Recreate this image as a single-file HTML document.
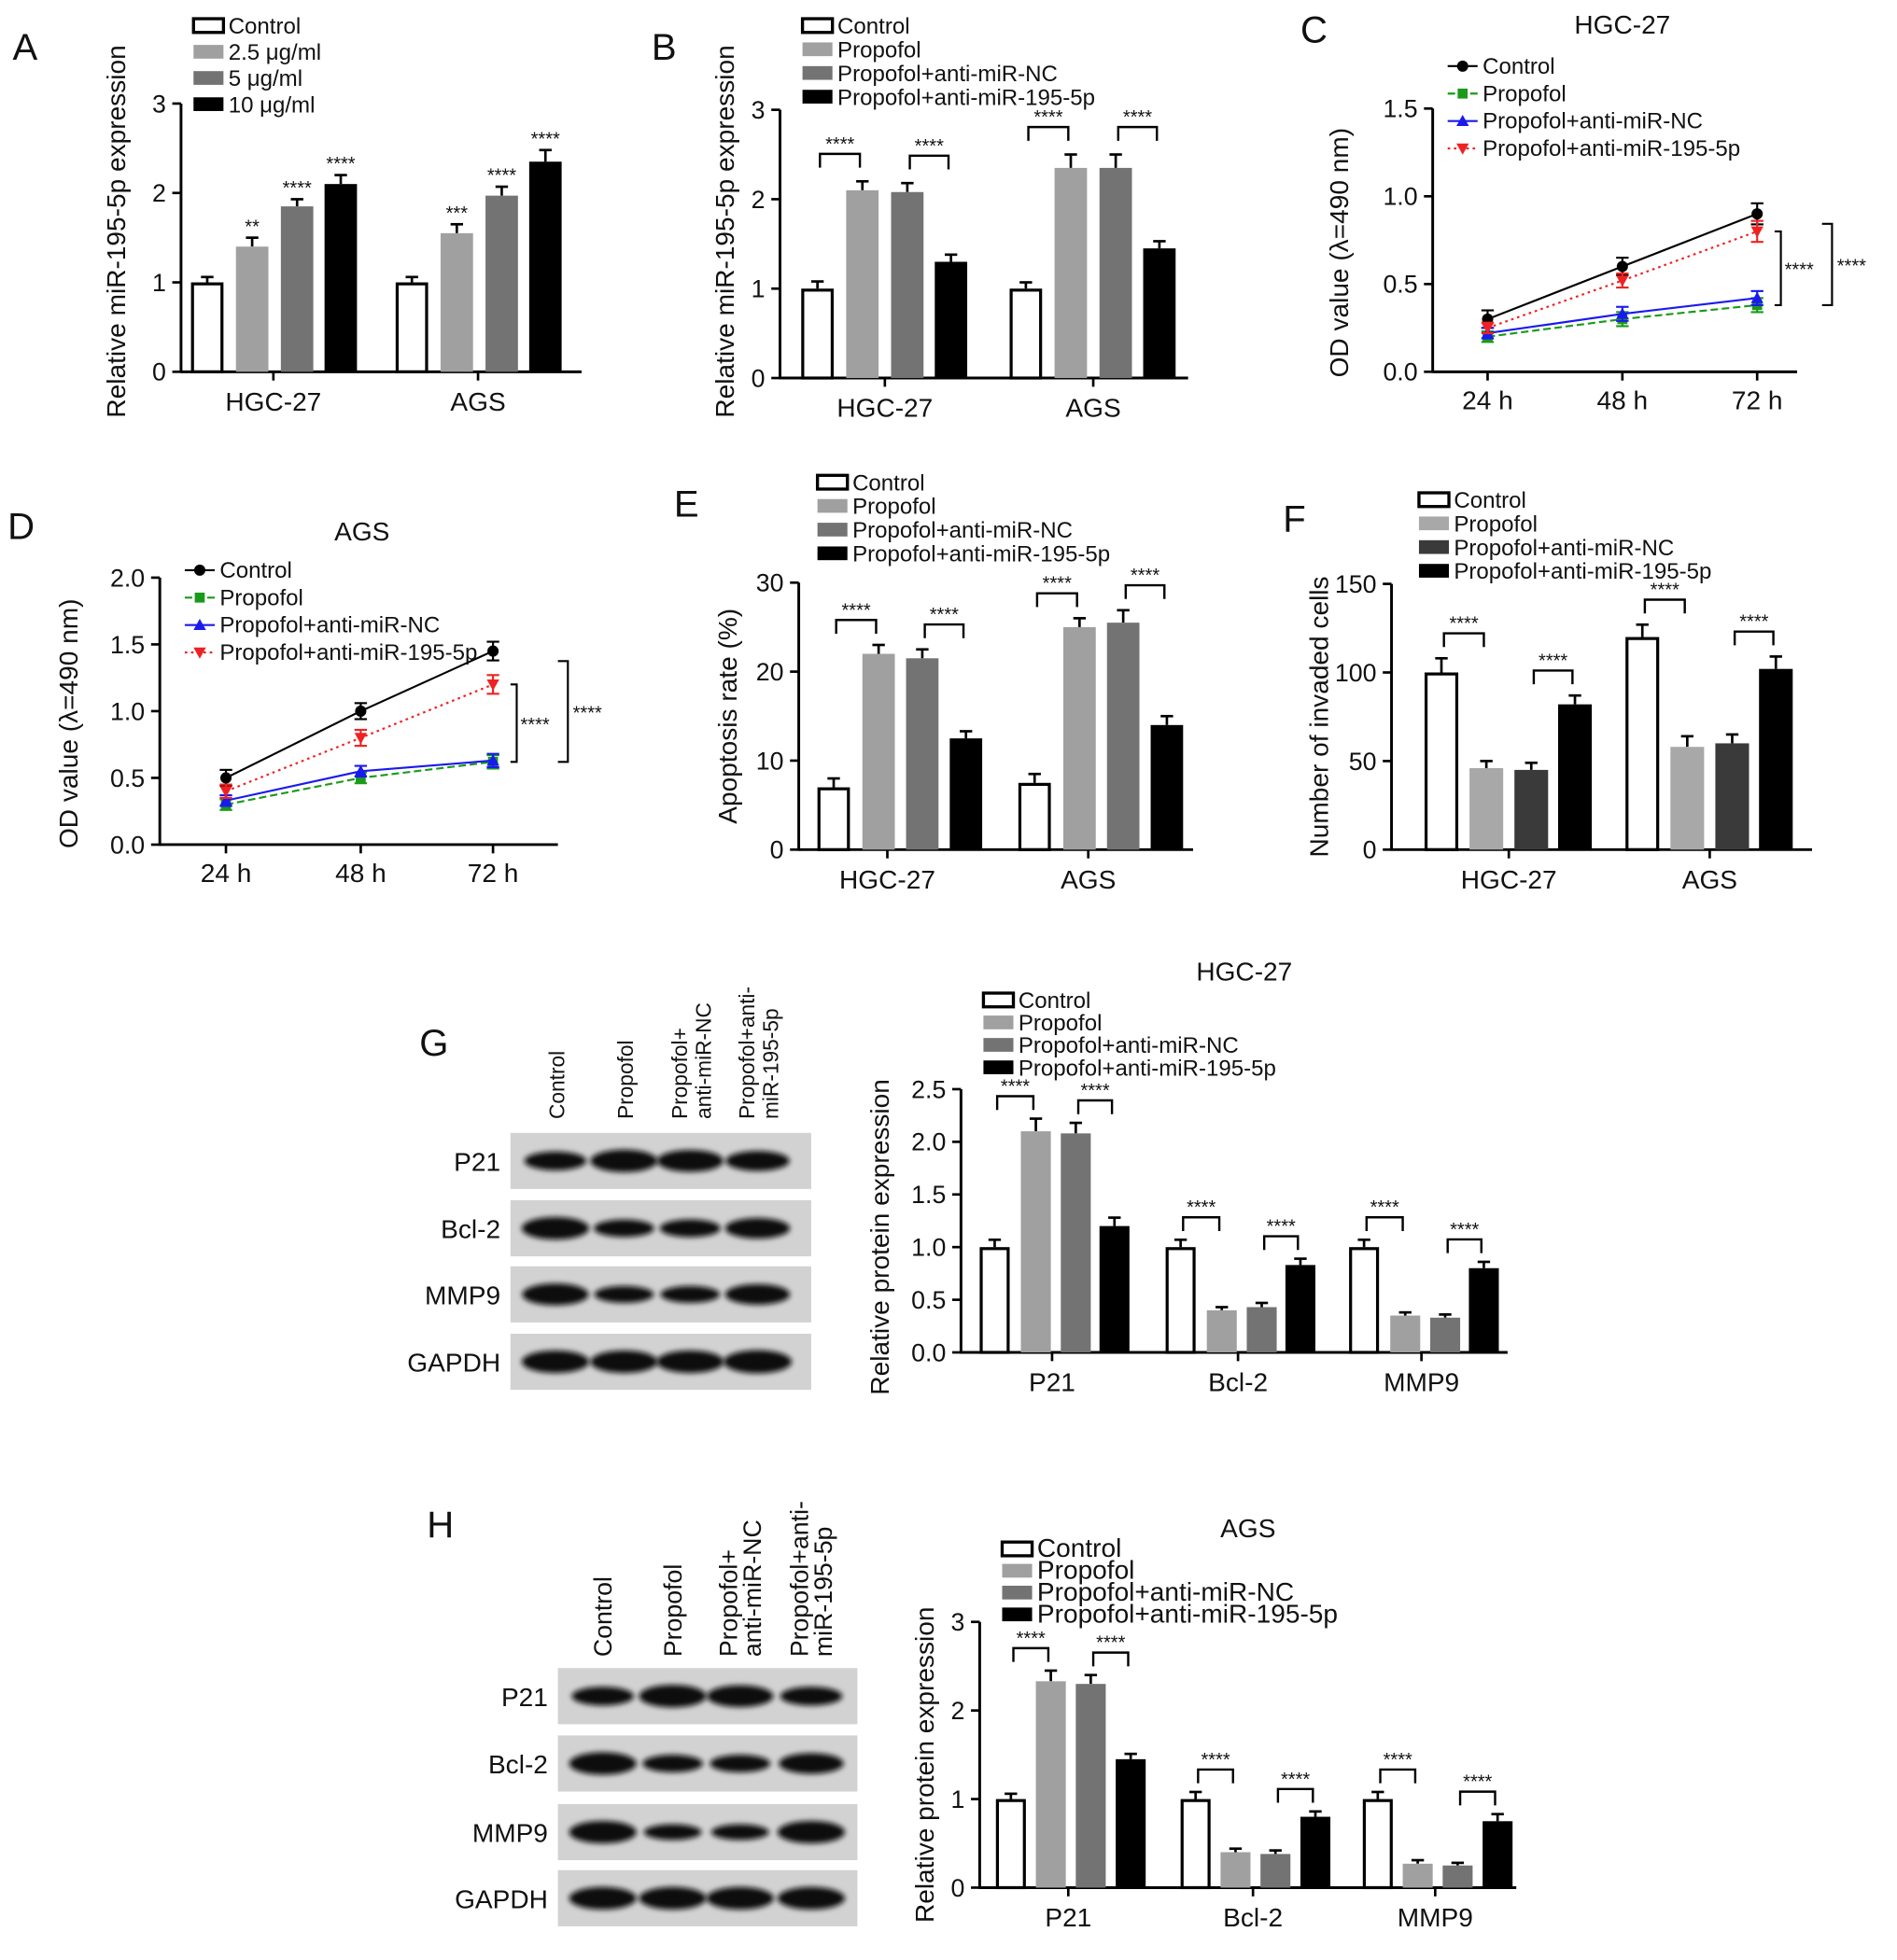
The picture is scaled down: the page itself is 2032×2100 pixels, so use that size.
<!DOCTYPE html>
<html><head><meta charset="utf-8"><style>
html,body{margin:0;padding:0;background:#fff;}
svg{display:block;font-family:"Liberation Sans",Arial,sans-serif;}
</style></head><body>
<svg id="fig" width="2032" height="2100" viewBox="0 0 1520 1571" xmlns="http://www.w3.org/2000/svg">
<defs><filter id="blur" x="-20%" y="-50%" width="140%" height="200%"><feGaussianBlur stdDeviation="2.2"/></filter></defs>
</svg>
<script>
// ---------- DATA ----------
const groupsAB = ['HGC-27','AGS'];
const aSeries = ['Control','2.5 μg/ml','5 μg/ml','10 μg/ml'];
const aValues = [[1.0,1.4,1.85,2.1],[1.0,1.55,1.97,2.35]];
const aErrs = [[0.06,0.1,0.08,0.1],[0.06,0.1,0.1,0.13]];
const aStars = [['','**','****','****'],['','***','****','****']];
const treatSeries = ['Control','Propofol','Propofol+anti-miR-NC','Propofol+anti-miR-195-5p'];
const bValues = [[1.0,2.1,2.08,1.3],[1.0,2.35,2.35,1.45]];
const bErrs = [[0.08,0.1,0.1,0.08],[0.07,0.15,0.15,0.08]];
const timeCats = ['24 h','48 h','72 h'];
const cValues = [[0.3,0.6,0.9],[0.2,0.3,0.38],[0.22,0.33,0.42],[0.25,0.52,0.8]];
const cErrs = [[0.05,0.05,0.06],[0.03,0.04,0.04],[0.03,0.04,0.04],[0.03,0.04,0.06]];
const dValues = [[0.5,1.0,1.45],[0.3,0.5,0.62],[0.33,0.55,0.63],[0.4,0.8,1.2]];
const dErrs = [[0.06,0.06,0.07],[0.04,0.04,0.05],[0.04,0.04,0.05],[0.05,0.06,0.07]];
const eValues = [[7,22,21.5,12.5],[7.5,25,25.5,14]];
const eErrs = [[1,1,1,0.8],[1,1,1.4,1]];
const fValues = [[100,46,45,82],[120,58,60,102]];
const fErrs = [[8,4,4,5],[7,6,5,7]];
const proteins = ['P21','Bcl-2','MMP9'];
const gValues = [[1.0,2.1,2.08,1.2],[1.0,0.4,0.43,0.83],[1.0,0.35,0.33,0.8]];
const gErrs = [[0.07,0.12,0.1,0.08],[0.07,0.03,0.04,0.06],[0.07,0.03,0.03,0.06]];
const hValues = [[1.0,2.33,2.3,1.45],[1.0,0.4,0.38,0.8],[1.0,0.27,0.25,0.75]];
const hErrs = [[0.06,0.12,0.1,0.06],[0.08,0.04,0.04,0.06],[0.08,0.04,0.03,0.08]];
const blotRows = ['P21','Bcl-2','MMP9','GAPDH'];
const blotG = [[0.7,1,0.95,0.8],[1,0.6,0.62,0.85],[0.95,0.55,0.55,0.85],[1,1,1,1.05]];
const blotH = [[0.7,1,0.95,0.7],[1,0.6,0.6,0.85],[1,0.45,0.45,1],[1,1,1,1]];
const laneLabels = [['Control'],['Propofol'],['Propofol+','anti-miR-NC'],['Propofol+anti-','miR-195-5p']];
// ---------- HELPERS ----------
const NS='http://www.w3.org/2000/svg';
const svg=document.getElementById('fig');
function mk(tag,attrs,parent,name,text){
  const e=document.createElementNS(NS,tag);
  for(const k in attrs) e.setAttribute(k,attrs[k]);
  
  
  if(text!==undefined) e.textContent=text;
  (parent||svg).appendChild(e); return e;
}
function txt(x,y,s,size,parent,name,anchor,extra){
  const a={x:x,y:y,'font-size':size,'text-anchor':anchor||'start',fill:'#111'};
  if(extra) for(const k in extra) a[k]=extra[k];
  return mk('text',a,parent,name,s);
}
function legend(x,y,labels,colors,size,step,g,isLine){
  labels.forEach((l,i)=>{
    const yy=y+i*step;
    if(isLine){
      const c=colors[i];
      mk('line',{x1:x,y1:yy,x2:x+24,y2:yy,stroke:c.c,'stroke-width':1.6,'stroke-dasharray':c.d},g,'legend-line');
      marker(x+12,yy,i,c.c,g);
    } else {
      mk('rect',{x:x,y:yy-6,width:24,height:11,fill:colors[i],stroke:i==0?'#000':'none','stroke-width':2.5},g,'legend-swatch');
    }
    txt(x+28,yy+6,l,size,g,'legend-label');
  });
}
function marker(x,y,i,c,g){
  if(i==0) mk('circle',{cx:x,cy:y,r:4.5,fill:c},g,'marker');
  else if(i==1) mk('rect',{x:x-4,y:y-4,width:8,height:8,fill:c},g,'marker');
  else if(i==2) mk('polygon',{points:`${x},${y-5} ${x+5},${y+4} ${x-5},${y+4}`,fill:c},g,'marker');
  else mk('polygon',{points:`${x-5},${y-4} ${x+5},${y-4} ${x},${y+5}`,fill:c},g,'marker');
}
function yAxis(g,x0,y0,yTop,vmax,ticks,fmt,size){
  mk('line',{x1:x0,y1:y0+1,x2:x0,y2:yTop,stroke:'#000','stroke-width':2.2},g,'y-axis');
  ticks.forEach(t=>{const y=y0-t/vmax*(y0-yTop);
    mk('line',{x1:x0-7,y1:y,x2:x0,y2:y,stroke:'#000','stroke-width':2},g,'y-tick');
    txt(x0-12,y+7,fmt(t),size,g,'y-tick-label','end');});
}
function barChart(c){
  const g=mk('g',{},svg,c.name);
  const ys=v=>c.y0-v/c.vmax*(c.y0-c.yTop);
  yAxis(g,c.x0,c.y0,c.yTop,c.vmax,c.ticks,c.fmt,20);
  mk('line',{x1:c.x0,y1:c.y0,x2:c.xEnd,y2:c.y0,stroke:'#000','stroke-width':2.2},g,'x-axis');
  c.groups.forEach((gn,gi)=>{
    const cx=c.centers[gi];
    mk('line',{x1:cx,y1:c.y0,x2:cx,y2:c.y0+7,stroke:'#000','stroke-width':2},g,'x-tick');
    txt(cx,c.y0+31,gn,21,g,'x-tick-label','middle');
    const vals=c.values[gi], errs=c.errs[gi], bx=[];
    vals.forEach((v,si)=>{
      const x=cx+c.offsets[si]-c.bw/2; bx.push(x+c.bw/2);
      const top=ys(v), et=ys(v+errs[si]);
      mk('line',{x1:x+c.bw/2,y1:top,x2:x+c.bw/2,y2:et,stroke:'#000','stroke-width':2},g,'error-bar');
      mk('line',{x1:x+c.bw/2-5,y1:et,x2:x+c.bw/2+5,y2:et,stroke:'#000','stroke-width':2},g,'error-cap');
      if(si==0) mk('rect',{x:x+1.2,y:top+1.2,width:c.bw-2.4,height:c.y0-top-1.2,fill:'#fff',stroke:'#000','stroke-width':2.4},g,'bar-'+gn.toLowerCase()+'-'+si);
      else mk('rect',{x:x,y:top,width:c.bw,height:c.y0-top,fill:c.colors[si]},g,'bar-'+gn.toLowerCase()+'-'+si);
      if(c.stars && c.stars[gi][si]) txt(x+c.bw/2,et-4,c.stars[gi][si],15,g,'significance','middle');
    });
    if(c.brackets){
      [[0,1],[2,3]].forEach(p=>{
        const m=Math.max(vals[p[0]]+errs[p[0]],vals[p[1]]+errs[p[1]]);
        const yb=ys(m)-c.bgap;
        const x1=bx[p[0]]+2,x2=bx[p[1]]-2;
        mk('polyline',{points:`${x1},${yb+11} ${x1},${yb} ${x2},${yb} ${x2},${yb+11}`,fill:'none',stroke:'#000','stroke-width':1.8},g,'significance-bracket');
        txt((x1+x2)/2,yb-3,'****',15,g,'significance','middle');
      });
    }
  });
  txt(0,0,c.ytitle,21,g,'y-axis-title','middle',{transform:`translate(${c.tx},${(c.y0+c.yTop)/2+c.tdy}) rotate(-90)`});
  return g;
}
const lineStyles=[{c:'#000',d:'none'},{c:'#1a9a1a',d:'6,3'},{c:'#1a1aee',d:'none'},{c:'#ee2222',d:'2,3'}];
function lineChart(c){
  const g=mk('g',{},svg,c.name);
  const ys=v=>c.y0-v/c.vmax*(c.y0-c.yTop);
  yAxis(g,c.x0,c.y0,c.yTop,c.vmax,c.ticks,t=>t.toFixed(1),20);
  mk('line',{x1:c.x0,y1:c.y0,x2:c.xEnd,y2:c.y0,stroke:'#000','stroke-width':2.2},g,'x-axis');
  c.cats.forEach((cat,i)=>{const x=c.xs[i];
    mk('line',{x1:x,y1:c.y0,x2:x,y2:c.y0+7,stroke:'#000','stroke-width':2},g,'x-tick');
    txt(x,c.y0+30,cat,21,g,'x-tick-label','middle');});
  c.values.forEach((ser,si)=>{
    const st=lineStyles[si];
    const pts=ser.map((v,i)=>`${c.xs[i]},${ys(v)}`).join(' ');
    mk('polyline',{points:pts,fill:'none',stroke:st.c,'stroke-width':1.6,'stroke-dasharray':st.d},g,'series-line-'+si);
    ser.forEach((v,i)=>{const x=c.xs[i],y=ys(v),e=c.errs[si][i];
      mk('line',{x1:x,y1:ys(v-e),x2:x,y2:ys(v+e),stroke:st.c,'stroke-width':1.6},g,'error-bar');
      mk('line',{x1:x-5,y1:ys(v+e),x2:x+5,y2:ys(v+e),stroke:st.c,'stroke-width':1.6},g,'error-cap');
      mk('line',{x1:x-5,y1:ys(v-e),x2:x+5,y2:ys(v-e),stroke:st.c,'stroke-width':1.6},g,'error-cap');
      marker(x,y,si,st.c,g);});
  });
  const last=c.xs[c.xs.length-1];
  const yC=ys(c.values[0][2]), yP=ys(c.values[1][2]), yA=ys(c.values[3][2]);
  const bx1=last+14, bx2=last+52;
  mk('polyline',{points:`${bx1},${yA} ${bx1+5},${yA} ${bx1+5},${yP} ${bx1},${yP}`,fill:'none',stroke:'#000','stroke-width':1.6},g,'significance-bracket');
  txt(bx1+8,(yA+yP)/2+6,'****',15,g,'significance');
  mk('polyline',{points:`${bx2},${yC+8} ${bx2+8},${yC+8} ${bx2+8},${yP} ${bx2},${yP}`,fill:'none',stroke:'#000','stroke-width':1.6},g,'significance-bracket');
  txt(bx2+12,(yC+yP)/2+10,'****',15,g,'significance');
  txt(0,0,'OD value (λ=490 nm)',21,g,'y-axis-title','middle',{transform:`translate(${c.tx},${(c.y0+c.yTop)/2+10}) rotate(-90)`});
  txt(c.titleX,c.titleY,c.title,21,g,'chart-title','middle');
  legend(c.legX,c.legY,treatSeries,lineStyles,18,22,g,true);
  return g;
}
function blot(c){
  const g=mk('g',{},svg,c.name);
  c.rows.forEach((r,ri)=>{
    const y=c.rowYs[ri];
    mk('rect',{x:c.x,y:y,width:c.w,height:c.h,fill:'#d2d2d2'},g,'blot-strip-'+r);
    txt(c.x-8,y+c.h/2+8,r,21,g,'blot-row-label','end');
    c.data[ri].forEach((v,li)=>{
      mk('ellipse',{cx:c.lanes[li],cy:y+c.h/2,rx:20+7*v,ry:4+5*v,fill:'#111',filter:'url(#blur)'},g,'band');
    });
  });
  laneLabels.forEach((ls,li)=>{
    ls.forEach((l,k)=>{
      const off=(k-(ls.length-1)/2)*19;
      txt(0,0,l,c.fs,g,'lane-label','start',{transform:`translate(${c.lanes[li]+7+off},${c.labelY}) rotate(-90)`});
    });
  });
  return g;
}
// ---------- DRAW ----------
const grays=['#fff','#a0a0a0','#737373','#000'];
[['A',10,48],['B',522,48],['C',1042,34],['D',6,432],['E',540,414],['F',1028,426],['G',336,846],['H',342,1232]].forEach(p=>txt(p[1],p[2],p[0],30,svg,'panel-label-'+p[0]));
barChart({name:'chart-a',x0:145,xEnd:466,y0:298,yTop:83,vmax:3,ticks:[0,1,2,3],fmt:t=>t,groups:groupsAB,centers:[219,383],offsets:[-53,-17,19,54],bw:26,values:aValues,errs:aErrs,colors:grays,stars:aStars,ytitle:'Relative miR-195-5p expression',tx:100,tdy:-5});
legend(155,21,aSeries,grays,18,21,svg,false);
barChart({name:'chart-b',x0:625,xEnd:952,y0:303,yTop:88,vmax:3,ticks:[0,1,2,3],fmt:t=>t,groups:groupsAB,centers:[709,876],offsets:[-54,-18,18,53],bw:26,values:bValues,errs:bErrs,colors:grays,brackets:true,bgap:22,ytitle:'Relative miR-195-5p expression',tx:588,tdy:-10});
legend(643,21,treatSeries,grays,18,19,svg,false);
lineChart({name:'chart-c',x0:1148,xEnd:1440,y0:298,yTop:87,vmax:1.5,ticks:[0,0.5,1.0,1.5],cats:timeCats,xs:[1192,1300,1408],values:cValues,errs:cErrs,tx:1080,title:'HGC-27',titleX:1300,titleY:27,legX:1160,legY:53});
lineChart({name:'chart-d',x0:128,xEnd:447,y0:677,yTop:463,vmax:2.0,ticks:[0,0.5,1.0,1.5,2.0],cats:timeCats,xs:[181,289,395],values:dValues,errs:dErrs,tx:62,title:'AGS',titleX:290,titleY:433,legX:148,legY:457});
barChart({name:'chart-e',x0:640,xEnd:956,y0:681,yTop:467,vmax:30,ticks:[0,10,20,30],fmt:t=>t,groups:groupsAB,centers:[711,872],offsets:[-43,-7,28,63],bw:26,values:eValues,errs:eErrs,colors:grays,brackets:true,bgap:20,ytitle:'Apoptosis rate (%)',tx:590,tdy:0});
legend(655,387,treatSeries,grays,18,19,svg,false);
const fcols=['#fff','#a8a8a8','#3a3a3a','#000'];
barChart({name:'chart-f',x0:1115,xEnd:1452,y0:681,yTop:468,vmax:150,ticks:[0,50,100,150],fmt:t=>t,groups:groupsAB,centers:[1209,1370],offsets:[-54,-18,18,53],bw:27,values:fValues,errs:fErrs,colors:fcols,brackets:true,bgap:20,ytitle:'Number of invaded cells',tx:1064,tdy:0});
legend(1137,401,treatSeries,fcols,18,19,svg,false);
blot({name:'blot-g',x:409,w:241,h:45,rowYs:[908,962,1015,1069],rows:blotRows,data:blotG,lanes:[445,500,553,607],labelY:897,fs:17});
barChart({name:'chart-g',x0:770,xEnd:1208,y0:1084,yTop:873,vmax:2.5,ticks:[0,0.5,1.0,1.5,2.0,2.5],fmt:t=>t.toFixed(1),groups:proteins,centers:[843,992,1139],offsets:[-46,-13,19,50],bw:24,values:gValues,errs:gErrs,colors:grays,brackets:true,bgap:18,ytitle:'Relative protein expression',tx:712,tdy:13});
txt(997,786,'HGC-27',21,svg,'chart-g-title','middle');
legend(788,802,treatSeries,grays,18,18,svg,false);
blot({name:'blot-h',x:447,w:240,h:45,rowYs:[1337,1391,1446,1499],rows:blotRows,data:blotH,lanes:[483,539,593,650],labelY:1328,fs:20});
barChart({name:'chart-h',x0:785,xEnd:1215,y0:1513,yTop:1300,vmax:3,ticks:[0,1,2,3],fmt:t=>t,groups:proteins,centers:[856,1004,1150],offsets:[-46,-14,18,50],bw:24,values:hValues,errs:hErrs,colors:grays,brackets:true,bgap:18,ytitle:'Relative protein expression',tx:748,tdy:8});
txt(1000,1232,'AGS',21,svg,'chart-h-title','middle');
legend(803,1242,treatSeries,grays,21,17.5,svg,false);
</script>
</body></html>
